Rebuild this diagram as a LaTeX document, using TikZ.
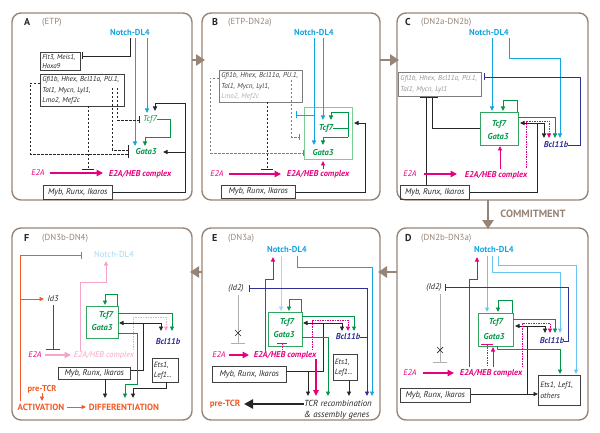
\documentclass[tikz,border=0pt]{standalone}
\usepackage{fontspec}
\setmainfont{PT Sans}
\usetikzlibrary{arrows.meta}
\definecolor{frameC}{RGB}{150,132,118}
\definecolor{notchC}{RGB}{20,165,225}
\definecolor{paleblue}{RGB}{105,198,240}
\definecolor{vpaleblue}{RGB}{165,215,242}
\definecolor{greenC}{RGB}{0,150,70}
\definecolor{greenbox}{RGB}{50,165,95}
\definecolor{lgreenbox}{RGB}{125,205,150}
\definecolor{magC}{RGB}{230,0,126}
\definecolor{pinkC}{RGB}{245,165,200}
\definecolor{navyC}{RGB}{46,49,146}
\definecolor{orangeC}{RGB}{241,90,36}
\definecolor{grayT}{RGB}{125,125,125}
\definecolor{lgrayT}{RGB}{175,175,175}
\begin{document}
\begin{tikzpicture}[x=1pt,y=-1pt,
  frame/.style={draw=frameC, line width=1.4pt, rounded corners=9pt},
  big/.style={draw=frameC, line width=2.6pt, -{Triangle[length=9pt,width=11pt]}},
  plab/.style={font=\bfseries\fontsize{10}{10}\selectfont, anchor=west, inner sep=0pt},
  stg/.style={font=\fontsize{8.8}{9}\selectfont, text=frameC, anchor=west, inner sep=0pt},
  notch/.style={font=\bfseries\fontsize{8.6}{9}\selectfont, text=notchC, inner sep=0pt},
  gene/.style={font=\bfseries\itshape\fontsize{8.5}{9}\selectfont, inner sep=0pt},
  idt/.style={font=\itshape\fontsize{8.3}{9}\selectfont, inner sep=0pt},
  gbox/.style={draw=black!75, line width=0.6pt, font=\itshape\fontsize{7.2}{10.5}\selectfont, align=left, anchor=north west, inner xsep=2pt, inner ysep=0pt},
  mybox/.style={draw=black!75, line width=0.6pt, font=\itshape\fontsize{8.4}{9}\selectfont, anchor=north west, inner sep=0pt},
  grbox/.style={draw=greenbox, line width=0.8pt, anchor=north west, inner sep=0pt},
  ar/.style={-{Triangle[length=4.5pt,width=4pt]}, line width=0.85pt},
  ln/.style={line width=0.85pt},
  inh/.style={-{Bar[width=7pt]}, line width=0.85pt},
  dsh/.style={dash pattern=on 2.5pt off 1.5pt},
  dotl/.style={dash pattern=on 1.5pt off 1pt},
  cmplx/.style={font=\bfseries\itshape\fontsize{8.5}{9}\selectfont, text=magC, inner sep=0pt},
  e2a/.style={font=\itshape\fontsize{8.3}{9}\selectfont, text=magC, inner sep=0pt},
  magarrow/.style={draw=magC, line width=1.4pt, -{Triangle[length=6.5pt,width=6.5pt]}},
  ora/.style={font=\bfseries\fontsize{9}{9}\selectfont, text=orangeC, inner sep=0pt},
  black!85]
\useasboundingbox (0,0) rectangle (600,433);

% ================= Panel A =================
\draw[frame] (12,13) rectangle (192,200);
\node[plab] (LA) at (24,22) {A};
\node[stg] (SA) at (42,22) {(ETP)};
\node[notch] (NA) at (130,33) {Notch-DL4};
\node[gbox, text width=36pt, minimum height=18pt, font=\itshape\fontsize{7}{9}\selectfont] (FA) at (40,52) {Flt3, Meis1,\\Hoxa9};
\node[gbox, text width=80pt, minimum height=32pt] (GA) at (40,74) {Gfi1b, Hhex, Bcl11a, PU.1,\\Tal1, Mycn, Lyl1,\\Lmo2, Mef2c};
\node[gene, text=greenC, font=\itshape\fontsize{8.5}{9}\selectfont] (TA) at (150,119) {Tcf7};
\node[gene, text=greenC] (GtA) at (146,152) {Gata3};
\node[e2a] (EA) at (38,173) {E2A};
\node[cmplx] (CA) at (140,174) {E2A/HEB complex};
\node[mybox, minimum width=69pt, minimum height=14pt] (MA) at (43,185) {Myb, Runx, Ikaros};

\draw[inh] (130,38) -- (130,56) -- (82,56);
\draw[ar, notchC] (135,38) -- (135,146);
\draw[ar, notchC] (147,38) -- (147,113);
\draw[ln, dsh] (40,83) -- (30,83) -- (30,154) -- (128,154);
\draw[ln, dsh] (112,88) -- (112,150) -- (128,150);
\draw[line width=0.9pt] (128,145) -- (128,158);
\draw[inh, dsh] (117,88) -- (117,120) -- (140,120);
\draw[ln, dsh, -{Bar[width=12pt]}] (88,106) -- (88,170);
\draw[ar, greenC] (TA.east) -- (170,119) -- (170,137) -- (145,137) -- (145,146);
\draw[ar] (MA.east |- 0,192) -- (185,192) -- (185,103) -- (155,103) -- (155,111);
\draw[ar] (185,152) -- (163,152);
\draw[magarrow] (50,173) -- (103,173);

% ================= Panel B =================
\draw[frame] (202,13) rectangle (380,200);
\node[plab] (LB) at (212,22) {B};
\node[stg] (SB) at (228,22) {(ETP-DN2a)};
\node[notch] (NB) at (314,33) {Notch-DL4};
\node[gbox, draw=grayT, text=black!75, text width=79pt, minimum height=32pt] (GB) at (219,70) {Gfi1b, Hhex, Bcl11a, PU.1,\\Tal1, Mycn, Lyl1,\\\textcolor{lgrayT}{Lmo2, Mef2c}};
\node[grbox, draw=lgreenbox, line width=1.4pt, minimum width=48pt, minimum height=52pt] (XB) at (304,107) {};
\node[gene, text=greenC] (TB) at (326,128) {Tcf7};
\node[gene, text=greenC] (GtB) at (323,153) {Gata3};
\node[e2a] (EB) at (217,174) {E2A};
\node[cmplx] (CB) at (318,174) {E2A/HEB complex};
\node[mybox, minimum width=74pt, minimum height=13pt] (MB) at (221,185) {Myb, Runx, Ikaros};

\draw[ln, grayT, dsh, -{Bar[width=6pt]}] (219,78) -- (210,78) -- (210,153) -- (304,153);
\draw[ln, grayT, dsh, -{Bar[width=6pt]}] (291,80) -- (291,137) -- (300,137);
\draw[ln, dsh, -{Bar[width=12pt]}] (267,102) -- (267,170);
\draw[ar, notchC] (314,38) -- (314,145);
\draw[ar, notchC] (323,38) -- (323,120);
\draw[inh, notchC] (314,115) -- (296,115);
\draw[ln, greenC] (TB.east) -- (348,128);
\draw[ar, greenC] (348,137) -- (348,112) -- (331,112) -- (331,120);
\draw[ar, greenC] (348,137) -- (323,137) -- (323,145);
\draw[ar] (MB.east |- 0,192) -- (365,192) -- (365,123) -- (354,123);
\draw[ar, magC] (323,169) -- (323,161);
\draw[magarrow] (229,174) -- (281,174);

% ================= Panel C =================
\draw[frame] (397,13) rectangle (588,200);
\node[plab] (LC) at (405,22) {C};
\node[stg] (SC) at (421,22) {(DN2a-DN2b)};
\node[notch] (NC) at (489,33) {Notch-DL4};
\node[gbox, draw=grayT, text=lgrayT!85!black, text width=79pt, minimum height=24pt] (GC) at (398,72) {Gfi1b, Hhex, Bcl11a, PU.1,\\Tal1, Mycn, Lyl1};
\node[grbox, minimum width=38pt, minimum height=33pt] (XC) at (480,112) {};
\node[gene, text=greenC] (TC) at (499,124) {Tcf7};
\node[gene, text=greenC] (GtC) at (498,137) {Gata3};
\node[gene, text=navyC] (BC) at (556,145) {Bcl11b};
\node[e2a] (EC) at (410,174) {E2A};
\node[cmplx] (CC) at (496,175) {E2A/HEB complex};
\node[mybox, minimum width=69pt, minimum height=14pt] (MC) at (400,185) {Myb, Runx, Ikaros};

\draw[ar, notchC] (492,38) -- (492,111);
\draw[ar, notchC] (509,38) -- (509,58) -- (560,58) -- (560,138);
\draw[inh, navyC] (BC.east) -- (580,145) -- (580,77) -- (484,77);
\draw[ar, greenC] (517,112) -- (517,100) -- (503,100) -- (503,111);
\draw[ar, greenC] (518,117) -- (555,117) -- (555,138);
\draw[ln] (MC.east |- 0,192) -- (537,192) -- (537,123);
\draw[ar] (537,123) -- (520,123);
\draw[ar] (537,123) -- (544,123) -- (544,138);
\draw[ar, magC, dotl] (526,168) -- (526,121) -- (549,121) -- (549,138);
\draw[ln] (426,185) -- (426,98);
\draw[ln] (480,128) -- (432,128) -- (432,98);
\draw[line width=0.9pt] (420,97.5) -- (438,97.5);
\draw[ar, magC] (500,169) -- (500,146);
\draw[magarrow] (424,174) -- (457,174);

% ================= Panel D =================
\draw[frame] (397,228) rectangle (588,420);
\node[plab] (LD) at (405,238) {D};
\node[stg] (SD) at (421,238) {(DN2b-DN3a)};
\node[notch] (ND) at (494,250) {Notch-DL4};
\node[idt] (ID) at (434,287) {(Id2)};
\node[grbox, minimum width=35pt, minimum height=33pt] (XD) at (478,313) {};
\node[gene, text=greenC] (TD) at (496,322) {Tcf7};
\node[gene, text=greenC] (GtD) at (494,337) {Gata3};
\node[gene, text=navyC] (BD) at (552,341) {Bcl11b};
\node[e2a] (ED) at (410,373) {E2A};
\node[cmplx] (CD) at (491,373) {E2A/HEB complex};
\node[mybox, minimum width=70pt, minimum height=14pt] (MD) at (400,388) {Myb, Runx, Ikaros};
\node[gbox, font=\itshape\fontsize{7.8}{11}\selectfont, text width=38pt, minimum height=30pt] (ETD) at (538,375) {Ets1, Lef1,\\others};

\draw[ar, magC, line width=1pt] (469,367) -- (469,279) -- (477,279) -- (477,257);
\draw[ar, paleblue] (487,256) -- (487,312);
\draw[ar, paleblue] (492,256) -- (492,272) -- (560,272) -- (560,333);
\draw[ar, paleblue] (498,256) -- (498,265) -- (576,265) -- (576,374);
\draw[inh, navyC] (BD.east) -- (568,341) -- (568,287) -- (445,287);
\draw[ln, lgrayT, -{Bar[width=14pt]}] (440,294) -- (440,363);
\draw[line width=0.7pt] (437,347) -- (443,353) (437,353) -- (443,347);
\draw[ar, greenC] (512,313) -- (512,300) -- (498,300) -- (498,312);
\draw[ar, greenC] (513,319) -- (555,319) -- (555,333);
\draw[ar] (MD.east |- 0,394) -- (538,394);
\draw[ln] (527,394) -- (527,326);
\draw[ar] (527,326) -- (515,326);
\draw[ar] (527,326) -- (545,326) -- (545,333);
\draw[ar, magC, dotl] (522,367) -- (522,323) -- (550,323) -- (550,333);
\draw[ln, magC, dotl, -{Bar[width=12pt]}] (487,366) -- (487,344);
\draw[ar, magC, line width=1pt] (493,367) -- (493,347);
\draw[ar, greenC] (497,346) -- (497,349) -- (560,349) -- (560,374);
\draw[magarrow] (423,373) -- (454,373);

% ================= Panel E =================
\draw[frame] (202,228) rectangle (380,420);
\node[plab] (LE) at (212,238) {E};
\node[stg] (SE) at (228,238) {(DN3a)};
\node[notch] (NE) at (287,250) {Notch-DL4};
\node[idt] (IE) at (236,288) {(Id2)};
\node[grbox, minimum width=34pt, minimum height=34pt] (XE) at (268,312) {};
\node[gene, text=greenC] (TE) at (287,322) {Tcf7};
\node[gene, text=greenC] (GtE) at (284,335) {Gata3};
\node[gene, text=navyC] (BE) at (348,337) {Bcl11b};
\node[e2a] (EE) at (219,355) {E2A};
\node[cmplx] (CE) at (285,355) {E2A/HEB complex};
\node[mybox, minimum width=74pt, minimum height=16pt] (ME) at (212,366) {Myb, Runx, Ikaros};
\node[gbox, font=\itshape\fontsize{7.6}{10}\selectfont, inner xsep=1.5pt, text width=21pt, minimum height=26pt] (ETE) at (333,354) {Ets1,\\Lef1...};
\node[font=\itshape\fontsize{8.8}{11}\selectfont, align=left, anchor=west, inner sep=0pt] (TCR) at (304,409.5) {TCR recombination\\\& assembly genes};
\node[ora] (PE) at (225,404) {pre-TCR};

\draw[ar, magC, line width=1pt] (265,351) -- (265,279) -- (273,279) -- (273,257);
\draw[ar, vpaleblue] (281,256) -- (281,311);
\draw[ar, notchC] (297,256) -- (297,267) -- (372,267) -- (372,396);
\draw[inh, navyC] (367,288) -- (249,288);
\draw[ar, navyC] (367,288) -- (367,396);
\draw[ln, navyC] (BE.east) -- (367,337);
\draw[ln, lgrayT, -{Bar[width=14pt]}] (238,295) -- (238,344);
\draw[line width=0.7pt] (235,330) -- (241,336) (235,336) -- (241,330);
\draw[ar, greenC] (301,312) -- (301,299) -- (289,299) -- (289,311);
\draw[ar, greenC] (302,316) -- (354,316) -- (354,331);
\draw[ln] (ME.east |- 0,371) -- (323,371) -- (323,323);
\draw[ar] (323,323) -- (303,323);
\draw[ar] (323,323) -- (342,323) -- (342,331);
\draw[ar] (308,371) -- (308,396);
\draw[magC, line width=1.7pt, -{Triangle[length=6pt,width=5.5pt]}] (316,359) -- (316,396);
\draw[ar, magC, dotl] (312,350) -- (312,320) -- (348,320) -- (348,331);
\draw[ln, magC, dotl, -{Bar[width=10pt]}] (282,350) -- (282,343);
\draw[ar, greenC] (302,337) -- (328,337) -- (328,396);
\draw[ar] (ETE.south -| 349,0) -- (349,396);
\draw[line width=2.5pt, -{Triangle[length=9pt,width=9pt]}] (TCR.west |- 0,404) -- (244,404);
\draw[magarrow] (229,355) -- (249,355);

% ================= Panel F =================
\draw[frame] (12,228) rectangle (192,420);
\node[plab] (LF) at (24,238) {F};
\node[stg] (SF) at (42,238) {(DN3b-DN4)};
\node[notch, text=vpaleblue, font=\fontsize{8.6}{9}\selectfont] (NF) at (114,254) {Notch-DL4};
\node[idt] (IF) at (53,299) {Id3};
\node[e2a] (EF) at (35,355) {E2A};
\node[e2a, text=pinkC] (CF) at (104,355) {E2A/HEB complex};
\node[grbox, minimum width=32pt, minimum height=32pt] (XF) at (86,306) {};
\node[gene, text=greenC] (TF) at (106,315) {Tcf7};
\node[gene, text=greenC] (GtF) at (102,328) {Gata3};
\node[gene, text=navyC] (BF) at (168,342) {Bcl11b};
\node[mybox, minimum width=72pt, minimum height=12pt] (MF) at (58,367) {Myb, Runx, Ikaros};
\node[gbox, font=\itshape\fontsize{7.6}{10}\selectfont, inner xsep=1.5pt, text width=23pt, minimum height=24pt] (ETF) at (152,358) {Ets1,\\Lef1...};
\node[ora, font=\bfseries\fontsize{8.5}{9}\selectfont] (PF) at (42,389) {pre-TCR};
\node[ora] (AF) at (41,407) {ACTIVATION};
\node[ora] (DF) at (124,407) {DIFFERENTIATION};

\draw[inh, orangeC, line width=0.9pt] (20,401) -- (20,255) -- (82,255);
\draw[ar, orangeC, line width=0.9pt] (20,299) -- (44,299);
\draw[ln, black!70, -{Bar[width=14pt]}] (53,305) -- (53,350);
\draw[magarrow, draw=pinkC] (45,355) -- (71,355);
\draw[ar, pinkC] (80,351) -- (80,282) -- (106,282) -- (106,261);
\draw[ar, greenC] (117,306) -- (117,294) -- (105,294) -- (105,305);
\draw[ar, greenC] (118,313) -- (172,313) -- (172,331);
\draw[ln] (MF.east |- 0,370) -- (143,370) -- (143,323);
\draw[ar] (143,323) -- (119,323);
\draw[ar] (143,323) -- (161,323) -- (161,331);
\draw[ar, pinkC, dotl] (133,350) -- (133,317) -- (166,317) -- (166,331);
\draw[ar, greenC] (118,333) -- (137,333) -- (137,384) -- (125,384) -- (125,398);
\draw[ar] (166,382) -- (166,388) -- (133,388) -- (133,398);
\draw[ar] (105,379) -- (105,398);
\draw[ar, orangeC] (42,393) -- (42,401);
\draw[ar, orangeC, line width=1pt] (67,407) -- (86,407);

% ================= Stage arrows =================
\draw[big] (192,60) -- (205,60);
\draw[big] (380,60) -- (399,60);
\draw[big] (488,200) -- (488,229);
\node[font=\bfseries\fontsize{10.5}{11}\selectfont, text=frameC, inner sep=0pt] (CM) at (533,214) {COMMITMENT};
\draw[big] (397,272) -- (378,272);
\draw[big] (202,272) -- (190,272);
\end{tikzpicture}
\end{document}
